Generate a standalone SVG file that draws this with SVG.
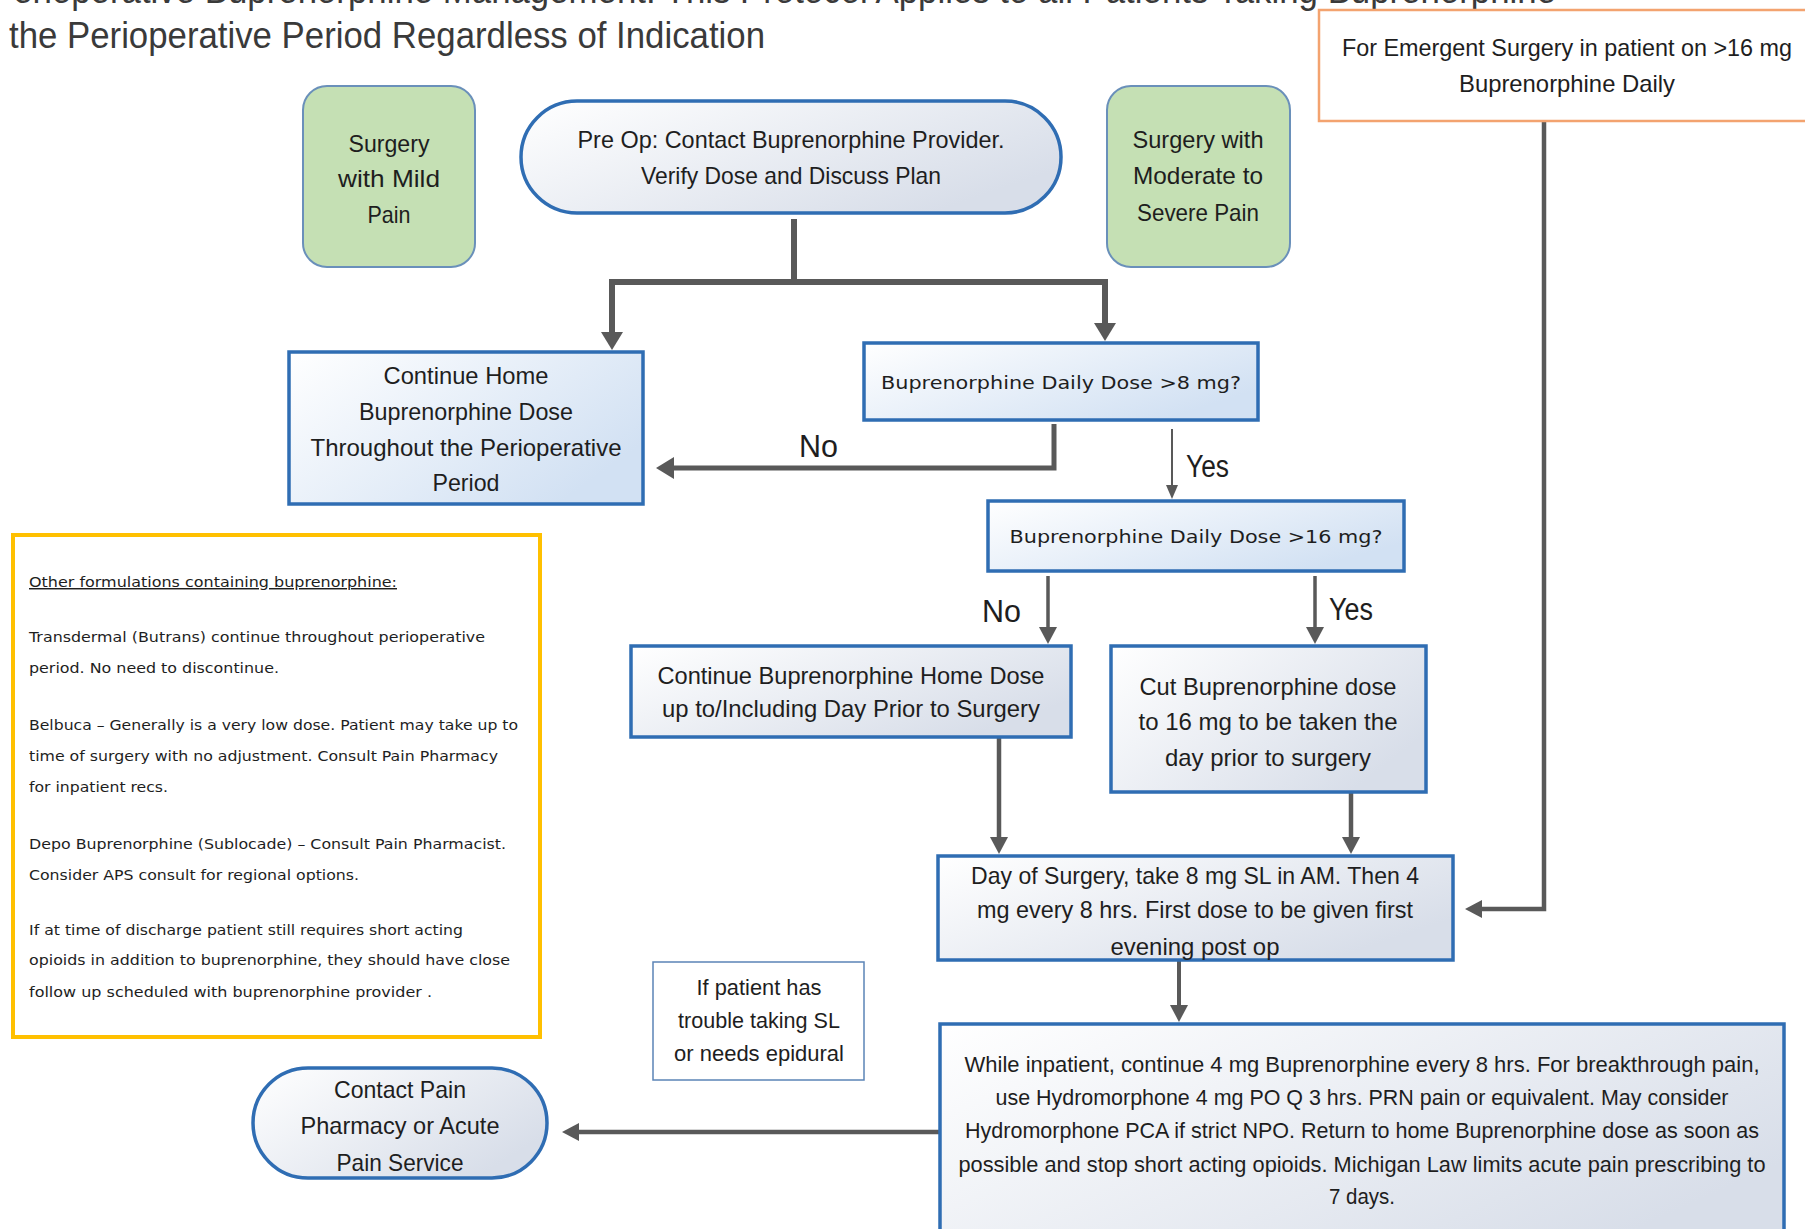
<svg xmlns="http://www.w3.org/2000/svg" width="1805" height="1229" viewBox="0 0 1805 1229">
<style>
.t{font-family:'Liberation Sans',Arial,sans-serif;font-size:24px;fill:#1e1e1e;text-anchor:middle}
.w{font-family:'Liberation Sans',Arial,sans-serif;font-size:22.5px;fill:#1e1e1e;text-anchor:middle}
.q{font-family:'DejaVu Sans','Liberation Sans',sans-serif;font-size:18px;fill:#1e1e1e;text-anchor:middle}
.n{font-family:'DejaVu Sans','Liberation Sans',sans-serif;font-size:14.5px;fill:#1e1e1e}
.lbl{font-family:'Liberation Sans',Arial,sans-serif;font-size:31px;fill:#1e1e1e}
.title{font-family:'Liberation Sans',Arial,sans-serif;font-size:36px;fill:#3a3a3a}
.box{fill:url(#gb);stroke:#2f6db3;stroke-width:3.5}
.boxg{fill:url(#gg);stroke:#2f6db3;stroke-width:3.5}
.green{fill:#c5e0b4;stroke:#6a90ba;stroke-width:2}
.c{fill:none;stroke:#595959;stroke-linejoin:miter}
</style>
<defs>
<linearGradient id="gb" x1="0" y1="0" x2="1" y2="0.6">
<stop offset="0" stop-color="#ffffff"/><stop offset="1" stop-color="#d2e1f3"/>
</linearGradient>
<linearGradient id="gg" x1="0" y1="0" x2="1" y2="0.6">
<stop offset="0" stop-color="#ffffff"/><stop offset="1" stop-color="#d8dee9"/>
</linearGradient>
<marker id="big" markerUnits="userSpaceOnUse" markerWidth="18" markerHeight="22" viewBox="0 0 18 22" refX="0" refY="11" orient="auto">
<path d="M0,0 L18,11 L0,22 z" fill="#595959"/>
</marker>
<marker id="med" markerUnits="userSpaceOnUse" markerWidth="17" markerHeight="18" viewBox="0 0 17 18" refX="0" refY="9" orient="auto">
<path d="M0,0 L17,9 L0,18 z" fill="#595959"/>
</marker>
<marker id="sm" markerUnits="userSpaceOnUse" markerWidth="14" markerHeight="12" viewBox="0 0 14 12" refX="0" refY="6" orient="auto">
<path d="M0,0 L14,6 L0,12 z" fill="#595959"/>
</marker>
</defs>
<rect width="1805" height="1229" fill="#ffffff"/>

<g id="title">
<text class="title" x="-10" y="3" textLength="1566" lengthAdjust="spacingAndGlyphs">Perioperative Buprenorphine Management: This Protocol Applies to all Patients Taking Buprenorphine</text>
<text class="title" x="9" y="48" textLength="756" lengthAdjust="spacingAndGlyphs">the Perioperative Period Regardless of Indication</text>
</g>

<g id="connectors">
<path class="c" stroke-width="6" d="M794,219 V282 H612 V332" marker-end="url(#big)"/>
<path class="c" stroke-width="6" d="M794,282 H1105 V323" marker-end="url(#big)"/>
<path class="c" stroke-width="5" d="M1054,424 V468 H674" marker-end="url(#big)"/>
<path class="c" stroke-width="2" d="M1172,429 V485" marker-end="url(#sm)"/>
<path class="c" stroke-width="3.5" d="M1048,576 V627" marker-end="url(#med)"/>
<path class="c" stroke-width="3.5" d="M1315,576 V627" marker-end="url(#med)"/>
<path class="c" stroke-width="4.5" d="M999,737 V837" marker-end="url(#med)"/>
<path class="c" stroke-width="4.5" d="M1351,792 V837" marker-end="url(#med)"/>
<path class="c" stroke-width="4.5" d="M1544,121 V909 H1482" marker-end="url(#med)"/>
<path class="c" stroke-width="4" d="M1179,960 V1005" marker-end="url(#med)"/>
<path class="c" stroke-width="4.5" d="M940,1132 H579" marker-end="url(#med)"/>
<text class="lbl" x="799" y="457" textLength="39" lengthAdjust="spacingAndGlyphs">No</text>
<text class="lbl" x="1186" y="477" textLength="43" lengthAdjust="spacingAndGlyphs">Yes</text>
<text class="lbl" x="982" y="622" textLength="39" lengthAdjust="spacingAndGlyphs">No</text>
<text class="lbl" x="1329" y="620" textLength="44" lengthAdjust="spacingAndGlyphs">Yes</text>
</g>

<g id="mild">
<rect class="green" x="303" y="86" width="172" height="181" rx="24"/>
<text class="t" x="389" y="152" textLength="81" lengthAdjust="spacingAndGlyphs">Surgery</text>
<text class="t" x="389" y="187" textLength="102" lengthAdjust="spacingAndGlyphs">with Mild</text>
<text class="t" x="389" y="223" textLength="43" lengthAdjust="spacingAndGlyphs">Pain</text>
</g>

<g id="preop">
<rect class="boxg" x="521" y="101" width="540" height="112" rx="56"/>
<text class="t" x="791" y="148" textLength="427" lengthAdjust="spacingAndGlyphs">Pre Op: Contact Buprenorphine Provider.</text>
<text class="t" x="791" y="184" textLength="300" lengthAdjust="spacingAndGlyphs">Verify Dose and Discuss Plan</text>
</g>

<g id="moderate">
<rect class="green" x="1107" y="86" width="183" height="181" rx="24"/>
<text class="t" x="1198" y="148" textLength="131" lengthAdjust="spacingAndGlyphs">Surgery with</text>
<text class="t" x="1198" y="184" textLength="130" lengthAdjust="spacingAndGlyphs">Moderate to</text>
<text class="t" x="1198" y="221" textLength="122" lengthAdjust="spacingAndGlyphs">Severe Pain</text>
</g>

<g id="emergent">
<rect x="1319" y="10" width="510" height="111" fill="#ffffff" stroke="#f3a36f" stroke-width="2.5"/>
<text class="t" x="1567" y="56" textLength="450" lengthAdjust="spacingAndGlyphs">For Emergent Surgery in patient on &gt;16 mg</text>
<text class="t" x="1567" y="92" textLength="216" lengthAdjust="spacingAndGlyphs">Buprenorphine Daily</text>
</g>

<g id="continue-home">
<rect class="box" x="289" y="352" width="354" height="152"/>
<text class="t" x="466" y="384" textLength="165" lengthAdjust="spacingAndGlyphs">Continue Home</text>
<text class="t" x="466" y="420" textLength="214" lengthAdjust="spacingAndGlyphs">Buprenorphine Dose</text>
<text class="t" x="466" y="456" textLength="311" lengthAdjust="spacingAndGlyphs">Throughout the Perioperative</text>
<text class="t" x="466" y="491" textLength="67" lengthAdjust="spacingAndGlyphs">Period</text>
</g>

<g id="dose8">
<rect class="box" x="864" y="343" width="394" height="77"/>
<text class="q" x="1061" y="389" textLength="360" lengthAdjust="spacingAndGlyphs">Buprenorphine Daily Dose &gt;8 mg?</text>
</g>

<g id="dose16">
<rect class="box" x="988" y="501" width="416" height="70"/>
<text class="q" x="1196" y="543" textLength="373" lengthAdjust="spacingAndGlyphs">Buprenorphine Daily Dose &gt;16 mg?</text>
</g>

<g id="continue-dose">
<rect class="boxg" x="631" y="646" width="440" height="91"/>
<text class="t" x="851" y="684" textLength="387" lengthAdjust="spacingAndGlyphs">Continue Buprenorphine Home Dose</text>
<text class="t" x="851" y="717" textLength="378" lengthAdjust="spacingAndGlyphs">up to/Including Day Prior to Surgery</text>
</g>

<g id="cut-dose">
<rect class="boxg" x="1111" y="646" width="315" height="146"/>
<text class="t" x="1268" y="695" textLength="257" lengthAdjust="spacingAndGlyphs">Cut Buprenorphine dose</text>
<text class="t" x="1268" y="730" textLength="259" lengthAdjust="spacingAndGlyphs">to 16 mg to be taken the</text>
<text class="t" x="1268" y="766" textLength="206" lengthAdjust="spacingAndGlyphs">day prior to surgery</text>
</g>

<g id="day-of-surgery">
<rect class="boxg" x="938" y="856" width="515" height="104"/>
<text class="t" x="1195" y="884" textLength="448" lengthAdjust="spacingAndGlyphs">Day of Surgery, take 8 mg SL in AM. Then 4</text>
<text class="t" x="1195" y="918" textLength="436" lengthAdjust="spacingAndGlyphs">mg every 8 hrs. First dose to be given first</text>
<text class="t" x="1195" y="955" textLength="169" lengthAdjust="spacingAndGlyphs">evening post op</text>
</g>

<g id="inpatient">
<rect class="boxg" x="940" y="1024" width="844" height="230" stroke-width="5"/>
<text class="w" x="1362" y="1072" textLength="795" lengthAdjust="spacingAndGlyphs">While inpatient, continue 4 mg Buprenorphine every 8 hrs. For breakthrough pain,</text>
<text class="w" x="1362" y="1105" textLength="733" lengthAdjust="spacingAndGlyphs">use Hydromorphone 4 mg PO Q 3 hrs. PRN pain or equivalent. May consider</text>
<text class="w" x="1362" y="1138" textLength="794" lengthAdjust="spacingAndGlyphs">Hydromorphone PCA if strict NPO. Return to home Buprenorphine dose as soon as</text>
<text class="w" x="1362" y="1172" textLength="807" lengthAdjust="spacingAndGlyphs">possible and stop short acting opioids. Michigan Law limits acute pain prescribing to</text>
<text class="w" x="1362" y="1204" textLength="66" lengthAdjust="spacingAndGlyphs">7 days.</text>
</g>

<g id="contact-pain">
<rect class="boxg" x="253" y="1068" width="294" height="110" rx="55"/>
<text class="t" x="400" y="1098" textLength="132" lengthAdjust="spacingAndGlyphs">Contact Pain</text>
<text class="t" x="400" y="1134" textLength="199" lengthAdjust="spacingAndGlyphs">Pharmacy or Acute</text>
<text class="t" x="400" y="1171" textLength="127" lengthAdjust="spacingAndGlyphs">Pain Service</text>
</g>

<g id="sl-note">
<rect x="653" y="962" width="211" height="118" fill="#ffffff" stroke="#5b84b6" stroke-width="1.5"/>
<text class="w" x="759" y="995" textLength="125" lengthAdjust="spacingAndGlyphs">If patient has</text>
<text class="w" x="759" y="1028" textLength="162" lengthAdjust="spacingAndGlyphs">trouble taking SL</text>
<text class="w" x="759" y="1061" textLength="170" lengthAdjust="spacingAndGlyphs">or needs epidural</text>
</g>

<g id="formulations">
<rect x="13" y="535" width="527" height="502" fill="#ffffff" stroke="#ffc000" stroke-width="4"/>
<text class="n" x="29" y="587" textLength="368" lengthAdjust="spacingAndGlyphs" text-decoration="underline">Other formulations containing buprenorphine:</text>
<text class="n" x="29" y="642" textLength="456" lengthAdjust="spacingAndGlyphs">Transdermal (Butrans) continue throughout perioperative</text>
<text class="n" x="29" y="673" textLength="250" lengthAdjust="spacingAndGlyphs">period. No need to discontinue.</text>
<text class="n" x="29" y="730" textLength="489" lengthAdjust="spacingAndGlyphs">Belbuca – Generally is a very low dose. Patient may take up to</text>
<text class="n" x="29" y="761" textLength="469" lengthAdjust="spacingAndGlyphs">time of surgery with no adjustment. Consult Pain Pharmacy</text>
<text class="n" x="29" y="792" textLength="139" lengthAdjust="spacingAndGlyphs">for inpatient recs.</text>
<text class="n" x="29" y="849" textLength="477" lengthAdjust="spacingAndGlyphs">Depo Buprenorphine (Sublocade) – Consult Pain Pharmacist.</text>
<text class="n" x="29" y="880" textLength="330" lengthAdjust="spacingAndGlyphs">Consider APS consult for regional options.</text>
<text class="n" x="29" y="935" textLength="434" lengthAdjust="spacingAndGlyphs">If at time of discharge patient still requires short acting</text>
<text class="n" x="29" y="965" textLength="481" lengthAdjust="spacingAndGlyphs">opioids in addition to buprenorphine, they should have close</text>
<text class="n" x="29" y="997" textLength="403" lengthAdjust="spacingAndGlyphs">follow up scheduled with buprenorphine provider .</text>
</g>
</svg>
